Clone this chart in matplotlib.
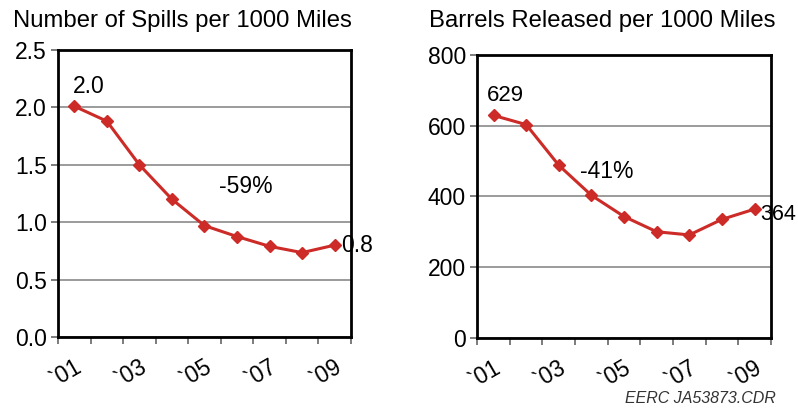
import matplotlib
matplotlib.use('Agg')
import matplotlib.pyplot as plt

plt.rcParams['font.family'] = ['Liberation Sans', 'DejaVu Sans']

# data, 2001..2009
years = ['`01', '`03', '`05', '`07', '`09']
spills = [2.01, 1.88, 1.50, 1.20, 0.97, 0.875, 0.79, 0.735, 0.80]
barrels = [629, 603, 488, 403, 343, 300, 291, 335, 364]

red = '#cc2b27'
grid_col = '#8a8a8a'

fig = plt.figure(figsize=(7.98, 4.13), dpi=100)
ax1 = fig.add_axes([0.0727, 0.184, 0.367, 0.695])
ax2 = fig.add_axes([0.598, 0.182, 0.368, 0.685])


def style(ax, vals, ylim, yticks, fmt):
    x = [i + 0.5 for i in range(len(vals))]
    ax.plot(x, vals, color=red, lw=2.2, marker='D', ms=6.5, zorder=3)
    ax.set_xlim(0, len(vals))
    ax.set_ylim(*ylim)
    ax.set_yticks(yticks)
    ax.set_yticklabels([fmt.format(t) for t in yticks], fontsize=16.5)
    ax.yaxis.grid(True, color=grid_col, lw=1.2)
    ax.set_axisbelow(True)
    # tick marks at category borders, labels under every other category
    ax.set_xticks(range(len(vals) + 1))
    ax.set_xticklabels([])
    ax.set_xticks(x[::2], minor=True)
    ax.set_xticklabels(years, minor=True, fontsize=16.5, rotation=30,
                       ha='right', rotation_mode='anchor')
    ax.tick_params(axis='x', which='minor', length=0, pad=13)
    ax.tick_params(axis='x', which='major', length=5, width=1.2, color='#666666')
    ax.tick_params(axis='y', length=5, width=1.2, color='#666666', pad=3)
    for s in ax.spines.values():
        s.set_linewidth(2)
        s.set_color('black')
    return x


x1 = style(ax1, spills, (0, 2.5), [0, 0.5, 1.0, 1.5, 2.0, 2.5], '{:.1f}')
fig.text(0.2287, 0.935, 'Number of Spills per 1000 Miles', fontsize=17.2,
         ha='center', va='baseline')
ax1.annotate('2.0', (x1[0], spills[0]), xytext=(-1, 6), textcoords='offset points',
             fontsize=16.5, ha='left', va='bottom')
ax1.annotate('0.8', (x1[-1], spills[-1]), xytext=(5, 0), textcoords='offset points',
             fontsize=16.5, ha='left', va='center', annotation_clip=False)
ax1.text(5.77, 1.31, '-59%', fontsize=16.5, ha='center', va='center')

x2 = style(ax2, barrels, (0, 800), [0, 200, 400, 600, 800], '{:d}')
fig.text(0.755, 0.935, 'Barrels Released per 1000 Miles', fontsize=17.2,
         ha='center', va='baseline')
ax2.annotate('629', (x2[0], barrels[0]), xytext=(-5, 7), textcoords='offset points',
             fontsize=16, ha='left', va='bottom')
ax2.annotate('364', (x2[-1], barrels[-1]), xytext=(4, -4), textcoords='offset points',
             fontsize=15.5, ha='left', va='center', annotation_clip=False)
ax2.text(3.97, 470, '-41%', fontsize=16.5, ha='center', va='center')

fig.text(0.972, 0.018, 'EERC JA53873.CDR', fontsize=11.5, style='italic',
         ha='right', va='bottom', color='#333333')

fig.savefig('out.png', dpi=100)
